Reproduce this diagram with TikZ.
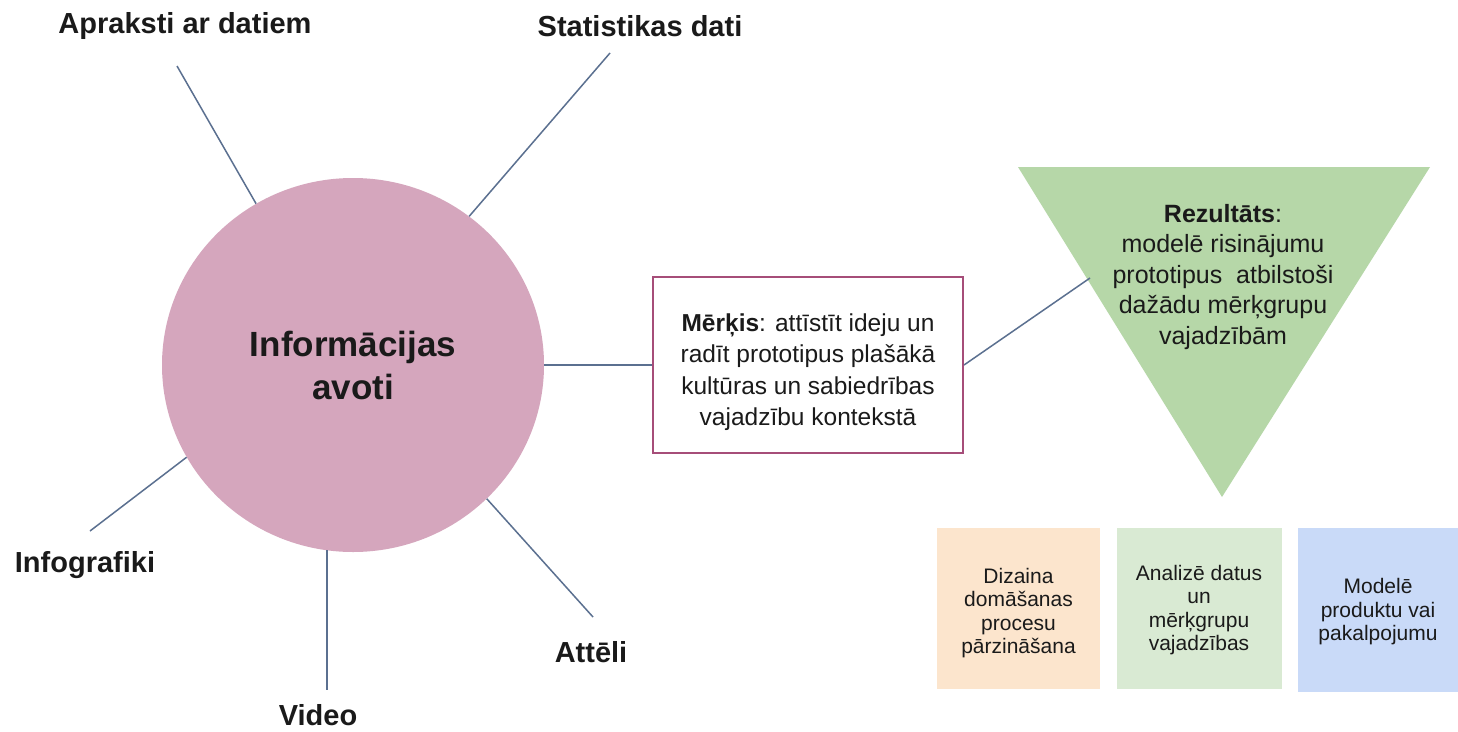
\documentclass[tikz,border=0pt]{standalone}
\usepackage{fontspec}
\setmainfont{Liberation Sans}
\usetikzlibrary{shapes.geometric}
\definecolor{circfill}{HTML}{D5A6BD}
\definecolor{trifill}{HTML}{B6D7A8}
\definecolor{orfill}{HTML}{FCE5CD}
\definecolor{grfill}{HTML}{D9EAD3}
\definecolor{blfill}{HTML}{C9DAF8}
\definecolor{boxline}{HTML}{A64D79}
\definecolor{conn}{HTML}{5B7090}
\definecolor{txt}{HTML}{1A1A1A}
\begin{document}
\begin{tikzpicture}[x=1pt,y=-1pt,
  lbl/.style={font=\fontsize{29}{34}\selectfont\bfseries, text=txt, anchor=base, inner sep=0pt},
  connector/.style={draw=conn, line width=1.5pt},
  smallbox/.style={minimum width=163pt, minimum height=161pt, inner sep=0pt},
  smalltext/.style={align=center, text=txt, inner sep=0pt, font=\fontsize{21}{23.5}\selectfont},
]
\useasboundingbox[fill=white] (0,0) rectangle (1458,731);

% central circle
\node[ellipse, fill=circfill, minimum width=382pt, minimum height=374pt, inner sep=0pt,
      align=center, text=txt, font=\fontsize{35}{43}\selectfont\bfseries] (circ) at (353,365)
      {Informācijas\\avoti};

% labels
\node[lbl] (lapr) at (185,33) {Apraksti ar datiem};
\node[lbl] (lstat) at (640,36) {Statistikas dati};
\node[lbl] (linfo) at (85,572) {Infografiki};
\node[lbl] (lvid) at (318,725) {Video};
\node[lbl] (latt) at (591,662) {Attēli};

% free ends of the spokes
\coordinate (eapr) at (177,66);
\coordinate (estat) at (610,53);
\coordinate (einfo) at (90,531);
\coordinate (evid) at (326.6,690);
\coordinate (eatt) at (593,617);

\draw[connector] (circ.121.6) -- (eapr);
\draw[connector] (circ.52.2) -- (estat);
\draw[connector] (circ.209.7) -- (einfo);
\draw[connector] (circ.262) -- (circ.262 |- evid);
\draw[connector] (circ.315.8) -- (eatt);

% goal box
\node[draw=boxline, line width=2pt, fill=white, minimum width=310pt, minimum height=176pt] (goal) at (808,365) {};
\node[align=center, text=txt, font=\fontsize{24.5}{31.5}\selectfont] (goaltxt) at (808,372)
      {\textbf{Mērķis}: attīstīt ideju un\\radīt prototipus plašākā\\kultūras un sabiedrības\\vajadzību kontekstā};
\draw[connector] (circ.east) -- (goal.west);

% result triangle
\coordinate (tl) at (1018,167);
\coordinate (tr) at (1430,167);
\coordinate (ap) at (1222,497);
\fill[trifill] (tl) -- (tr) -- (ap) -- cycle;
\node[align=center, text=txt, font=\fontsize{25}{30.5}\selectfont] (res) at (1223,277)
      {\textbf{Rezultāts}:\\ modelē risinājumu\\prototipus\ \ atbilstoši\\dažādu mērķgrupu\\vajadzībām};
\coordinate (trin) at (1090,278);
\draw[connector] (goal.east) -- (trin);

% bottom boxes
\node[smallbox, fill=orfill] (bor) at (1018.5,608) {};
\node[smallbox, fill=grfill, minimum width=165pt] (bgr) at (1199,608) {};
\node[smallbox, fill=blfill, minimum width=160pt, minimum height=164pt] (bbl) at (1378,610) {};
\node[smalltext] (tor) at (1018.5,613) {Dizaina\\domāšanas\\procesu\\pārzināšana};
\node[smalltext] (tgr) at (1199,610) {Analizē datus\\un\\mērķgrupu\\vajadzības};
\node[smalltext] (tbl) at (1378,612) {Modelē\\produktu vai\\pakalpojumu};
\end{tikzpicture}
\end{document}
